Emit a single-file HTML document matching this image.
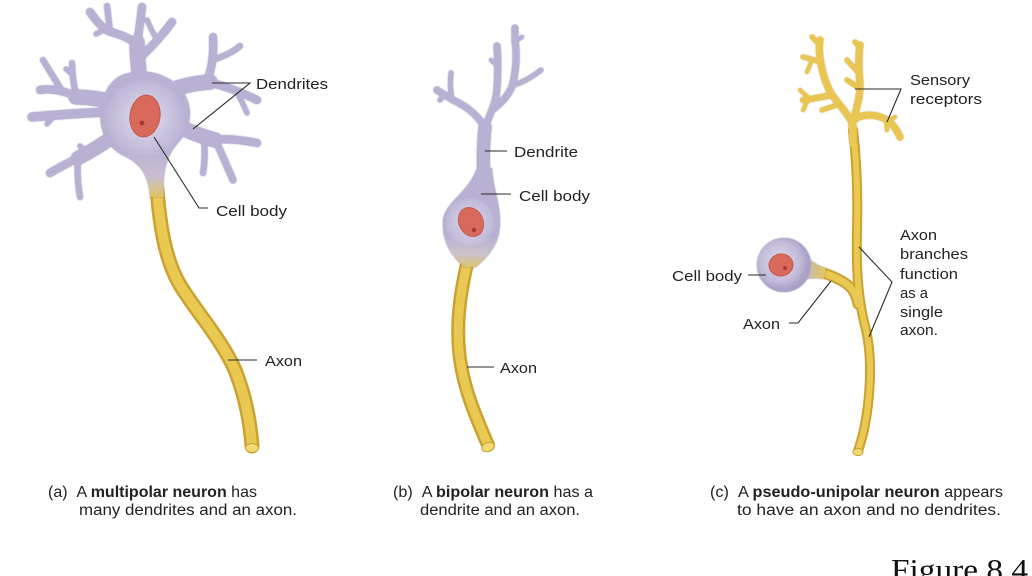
<!DOCTYPE html>
<html>
<head>
<meta charset="utf-8">
<style>
  html,body{margin:0;padding:0;background:#fff;overflow:hidden;}
  svg{display:block;}
  .den{fill:none;stroke:#b9b1d4;stroke-linecap:round;stroke-linejoin:round;}
  .dg{filter:drop-shadow(0 0 0.8px rgba(105,95,150,0.75));}
  .ax-o{fill:none;stroke:#c9a232;stroke-linecap:round;stroke-linejoin:round;}
  .ax-i{fill:none;stroke:#e9c951;stroke-linecap:round;stroke-linejoin:round;}
  .rec{fill:none;stroke:#e9c652;stroke-linecap:round;stroke-linejoin:round;}
  .rg{filter:drop-shadow(0 0 0.7px rgba(190,140,40,0.85));}
  .ld{fill:none;stroke:#2a2a2a;stroke-width:1.1;}
  .lb{font-family:"Liberation Sans",sans-serif;font-size:15px;fill:#222;}
  .cap{font-family:"Liberation Sans",sans-serif;font-size:15.5px;fill:#222;}
</style>
</head>
<body>
<svg width="1032" height="576" viewBox="0 0 1032 576" xmlns="http://www.w3.org/2000/svg">
<defs>
  <linearGradient id="ga" x1="0" y1="150" x2="0" y2="200" gradientUnits="userSpaceOnUse">
    <stop offset="0" stop-color="#b9b1d4"/>
    <stop offset="0.55" stop-color="#c9c0cf"/>
    <stop offset="1" stop-color="#e4c44e"/>
  </linearGradient>
  <radialGradient id="ra" cx="145" cy="118" r="42" gradientUnits="userSpaceOnUse">
    <stop offset="0" stop-color="#e2dff0"/>
    <stop offset="1" stop-color="#e2dff0" stop-opacity="0"/>
  </radialGradient>
  <linearGradient id="gb" x1="0" y1="236" x2="0" y2="272" gradientUnits="userSpaceOnUse">
    <stop offset="0" stop-color="#b9b1d4"/>
    <stop offset="0.5" stop-color="#cbc2cc"/>
    <stop offset="1" stop-color="#e4c44e"/>
  </linearGradient>
  <radialGradient id="rb" cx="470" cy="222" r="28" gradientUnits="userSpaceOnUse">
    <stop offset="0" stop-color="#dedaee"/>
    <stop offset="1" stop-color="#dedaee" stop-opacity="0"/>
  </radialGradient>
  <radialGradient id="rc" cx="780" cy="262" r="28" gradientUnits="userSpaceOnUse">
    <stop offset="0" stop-color="#e0dcef"/>
    <stop offset="0.7" stop-color="#c3bcda"/>
    <stop offset="1" stop-color="#a9a1c6"/>
  </radialGradient>
  <linearGradient id="gc" x1="800" y1="0" x2="828" y2="0" gradientUnits="userSpaceOnUse">
    <stop offset="0" stop-color="#bdb5d5"/>
    <stop offset="1" stop-color="#e7c84f"/>
  </linearGradient>
</defs>

<!-- ============ (a) MULTIPOLAR ============ -->
<path class="ax-o" stroke-width="15" d="M157,190 C160,225 165,260 180,285 C195,310 222,340 235,370 C245,395 250,420 252,446"/>
<path class="ax-i" stroke-width="10" d="M157,190 C160,225 165,260 180,285 C195,310 222,340 235,370 C245,395 250,420 252,446"/>
<ellipse cx="252" cy="448" rx="6.5" ry="4.5" fill="#f1d974" stroke="#c9a232" stroke-width="1"/>

<g class="dg">
  <!-- top tree -->
  <path class="den" stroke-width="15" d="M142,95 C139,75 137,58 137,42"/>
  <path class="den" stroke-width="8" d="M137,44 C128,37 118,34 108,31 C100,26 95,19 90,12"/>
  <path class="den" stroke-width="6" d="M110,32 C109,22 108,14 107,6"/>
  <path class="den" stroke-width="5" d="M104,30 L96,34"/>
  <path class="den" stroke-width="8" d="M137,44 C139,30 141,18 142,7"/>
  <path class="den" stroke-width="8" d="M140,58 C150,48 162,36 172,22"/>
  <path class="den" stroke-width="5" d="M157,40 C153,33 150,27 147,20"/>
  <!-- upper right tree -->
  <path class="den" stroke-width="15" d="M160,95 C178,86 195,83 210,82"/>
  <path class="den" stroke-width="8" d="M206,83 C212,70 214,55 213,37"/>
  <path class="den" stroke-width="6" d="M212,60 C222,57 232,53 240,46"/>
  <path class="den" stroke-width="8" d="M208,82 C225,86 243,93 257,100"/>
  <path class="den" stroke-width="5" d="M236,91 C241,99 244,106 247,113"/>
  <!-- lower right tree -->
  <path class="den" stroke-width="15" d="M170,122 C185,130 200,136 215,140"/>
  <path class="den" stroke-width="8" d="M212,140 C228,138 243,140 257,143"/>
  <path class="den" stroke-width="7" d="M216,141 C222,155 228,168 233,180"/>
  <path class="den" stroke-width="6" d="M204,138 C205,150 205,162 203,173"/>
  <!-- upper left tree -->
  <path class="den" stroke-width="15" d="M115,102 C100,99 88,97 76,97"/>
  <path class="den" stroke-width="8" d="M78,97 C65,91 52,88 40,90"/>
  <path class="den" stroke-width="6" d="M62,91 C56,81 49,70 43,60"/>
  <path class="den" stroke-width="6" d="M76,96 C74,85 72,75 72,63"/>
  <path class="den" stroke-width="5" d="M73,75 L66,69"/>
  <path class="den" stroke-width="9" d="M108,112 C85,113 55,115 32,117"/>
  <path class="den" stroke-width="5" d="M55,115 L47,124"/>
  <!-- lower left tree -->
  <path class="den" stroke-width="14" d="M115,135 C102,145 90,152 78,158"/>
  <path class="den" stroke-width="8" d="M80,157 C68,163 58,168 50,173"/>
  <path class="den" stroke-width="6" d="M78,160 C77,172 78,185 80,197"/>
  <path class="den" stroke-width="5" d="M88,153 L80,146"/>
  <!-- soma -->
  <path fill="url(#ga)" d="M120,76 C140,67 166,72 180,88 C194,104 193,126 178,143 C167,155 162,172 164,197 L150,197 C149,176 140,163 124,156 C104,146 98,125 101,106 C104,91 111,81 120,76 Z"/>
</g>
<ellipse cx="145" cy="118" rx="40" ry="38" fill="url(#ra)"/>
<ellipse cx="145" cy="116" rx="15" ry="21" transform="rotate(8 145 116)" fill="#d96a5b" stroke="#c4584b" stroke-width="1"/>
<circle cx="142" cy="123" r="2.5" fill="#a43b36"/>

<path class="ld" d="M212,83 L250,83 L193,129"/>
<text class="lb" x="256" y="89" textLength="72" lengthAdjust="spacingAndGlyphs">Dendrites</text>
<path class="ld" d="M154,137 L199,208 L208,208"/>
<text class="lb" x="216" y="216" textLength="71" lengthAdjust="spacingAndGlyphs">Cell body</text>
<path class="ld" d="M228,360 L257,360"/>
<text class="lb" x="265" y="366" textLength="37" lengthAdjust="spacingAndGlyphs">Axon</text>

<!-- ============ (b) BIPOLAR ============ -->
<path class="ax-o" stroke-width="14" d="M469,255 C462,285 456,315 459,350 C462,385 475,415 488,445"/>
<path class="ax-i" stroke-width="9" d="M469,255 C462,285 456,315 459,350 C462,385 475,415 488,445"/>
<ellipse cx="488" cy="447" rx="6.5" ry="4.5" transform="rotate(-20 488 447)" fill="#f1d974" stroke="#c9a232" stroke-width="1"/>

<g class="dg">
  <path class="den" stroke-width="13" d="M484,185 C483,165 483,145 485,127"/>
  <path class="den" stroke-width="7" d="M485,128 C478,115 466,106 453,100 C447,96 441,93 437,90"/>
  <path class="den" stroke-width="5" d="M452,99 C450,90 450,82 451,73"/>
  <path class="den" stroke-width="5" d="M444,95 L440,100"/>
  <path class="den" stroke-width="7" d="M486,125 C491,112 497,100 497,87 C498,74 498,60 497,46"/>
  <path class="den" stroke-width="7" d="M492,110 C503,102 511,92 513,83 C516,70 517,55 515,40 L515,28"/>
  <path class="den" stroke-width="4" d="M515,42 L522,37"/>
  <path class="den" stroke-width="5" d="M513,85 C522,83 532,77 541,70"/>
  <path class="den" stroke-width="4" d="M497,66 L491,60"/>
  <path fill="url(#gb)" d="M477,168 L492,168 C493,188 500,202 500,222 C500,243 490,255 476,267 L464,267 C451,256 442,241 443,222 C444,202 468,194 477,168 Z"/>
</g>
<ellipse cx="470" cy="222" rx="24" ry="24" fill="url(#rb)"/>
<ellipse cx="471" cy="222" rx="12" ry="15" transform="rotate(-25 471 222)" fill="#d96a5b" stroke="#c4584b" stroke-width="1"/>
<circle cx="474" cy="230" r="2.2" fill="#a43b36"/>

<path class="ld" d="M485,151 L507,151"/>
<text class="lb" x="514" y="157" textLength="64" lengthAdjust="spacingAndGlyphs">Dendrite</text>
<path class="ld" d="M481,194 L511,194"/>
<text class="lb" x="519" y="201" textLength="71" lengthAdjust="spacingAndGlyphs">Cell body</text>
<path class="ld" d="M467,367 L494,367"/>
<text class="lb" x="500" y="373" textLength="37" lengthAdjust="spacingAndGlyphs">Axon</text>

<!-- ============ (c) PSEUDO-UNIPOLAR ============ -->
<!-- axon outlines first, then fills, so the junction merges -->
<path class="ax-o" stroke-width="10" d="M853,130 C856,155 858,190 857,230 C856,270 858,300 866,330 C873,360 870,400 864,430 C861,442 859,448 858,451"/>
<path class="ax-o" stroke-width="11" d="M806,268 C822,272 842,278 851,288 C855,293 857,298 858,304"/>
<path class="ax-i" stroke-width="6" d="M853,130 C856,155 858,190 857,230 C856,270 858,300 866,330 C873,360 870,400 864,430 C861,442 859,448 858,451"/>
<path class="ax-i" stroke-width="7" d="M806,268 C822,272 842,278 851,288 C855,293 857,298 858,304"/>
<ellipse cx="858" cy="452" rx="5" ry="3.5" fill="#f1d974" stroke="#c9a232" stroke-width="1"/>

<g class="rg">
  <path class="rec" stroke-width="8" d="M853,140 C853,132 853,127 852,122"/>
  <path class="rec" stroke-width="7" d="M852,122 C846,112 838,103 832,95 C826,85 822,72 820,58 C819,50 819,45 820,40"/>
  <path class="rec" stroke-width="5" d="M820,45 L812,37"/>
  <path class="rec" stroke-width="5" d="M820,62 C814,60 808,58 803,57"/>
  <path class="rec" stroke-width="4" d="M812,60 L807,72"/>
  <path class="rec" stroke-width="6" d="M832,95 C822,97 812,99 803,100"/>
  <path class="rec" stroke-width="4" d="M810,99 L800,90"/>
  <path class="rec" stroke-width="4" d="M808,100 L803,110"/>
  <path class="rec" stroke-width="5" d="M840,104 L822,110"/>
  <path class="rec" stroke-width="7" d="M853,122 C856,110 860,98 860,85 C859,72 858,58 860,45"/>
  <path class="rec" stroke-width="5" d="M860,48 L855,42"/>
  <path class="rec" stroke-width="5" d="M858,72 L847,60"/>
  <path class="rec" stroke-width="5" d="M859,88 L847,80"/>
  <path class="rec" stroke-width="7" d="M853,120 C862,114 875,113 887,120 C893,124 897,130 900,137"/>
  <path class="rec" stroke-width="4" d="M888,121 L895,117"/>
  <path class="rec" stroke-width="4" d="M886,120 L887,130"/>
</g>
<path class="ax-i" stroke-width="6" d="M853,145 C853,136 853,130 852,124"/>

<g class="dg">
  <path fill="url(#gc)" d="M804,254 C812,262 818,266 826,268 L824,279 C815,278 808,278 800,281 Z"/>
  <circle cx="784" cy="265" r="27" fill="url(#rc)"/>
</g>
<ellipse cx="781" cy="265" rx="12" ry="11" transform="rotate(-10 781 265)" fill="#d96a5b" stroke="#c4584b" stroke-width="1"/>
<circle cx="785" cy="268" r="2" fill="#a43b36"/>

<path class="ld" d="M855,89 L901,89 L887,122"/>
<text class="lb" x="910" y="85" textLength="60" lengthAdjust="spacingAndGlyphs">Sensory</text>
<text class="lb" x="910" y="104" textLength="72" lengthAdjust="spacingAndGlyphs">receptors</text>
<path class="ld" d="M859,247 L892,282 L869,337"/>
<text class="lb" x="900" y="240" textLength="37" lengthAdjust="spacingAndGlyphs">Axon</text>
<text class="lb" x="900" y="259" textLength="68" lengthAdjust="spacingAndGlyphs">branches</text>
<text class="lb" x="900" y="279" textLength="58" lengthAdjust="spacingAndGlyphs">function</text>
<text class="lb" x="900" y="298" textLength="28" lengthAdjust="spacingAndGlyphs">as a</text>
<text class="lb" x="900" y="317" textLength="43" lengthAdjust="spacingAndGlyphs">single</text>
<text class="lb" x="900" y="335" textLength="38" lengthAdjust="spacingAndGlyphs">axon.</text>
<path class="ld" d="M748,275 L766,275"/>
<text class="lb" x="672" y="281" textLength="70" lengthAdjust="spacingAndGlyphs">Cell body</text>
<path class="ld" d="M789,323 L798,323 L831,281"/>
<text class="lb" x="743" y="329" textLength="37" lengthAdjust="spacingAndGlyphs">Axon</text>

<!-- ============ CAPTIONS ============ -->
<text class="cap" x="48" y="497" textLength="209" lengthAdjust="spacingAndGlyphs">(a)&#160;&#160;A <tspan font-weight="bold">multipolar neuron</tspan> has</text>
<text class="cap" x="79" y="515" textLength="218" lengthAdjust="spacingAndGlyphs">many dendrites and an axon.</text>

<text class="cap" x="393" y="497" textLength="200" lengthAdjust="spacingAndGlyphs">(b)&#160;&#160;A <tspan font-weight="bold">bipolar neuron</tspan> has a</text>
<text class="cap" x="420" y="515" textLength="160" lengthAdjust="spacingAndGlyphs">dendrite and an axon.</text>

<text class="cap" x="710" y="497" textLength="293" lengthAdjust="spacingAndGlyphs">(c)&#160;&#160;A <tspan font-weight="bold">pseudo-unipolar neuron</tspan> appears</text>
<text class="cap" x="737" y="515" textLength="264" lengthAdjust="spacingAndGlyphs">to have an axon and no dendrites.</text>

<text x="891" y="580" font-family="'Liberation Serif', serif" font-size="31" fill="#111" textLength="137" lengthAdjust="spacingAndGlyphs">Figure 8.4</text>
</svg>
</body>
</html>
